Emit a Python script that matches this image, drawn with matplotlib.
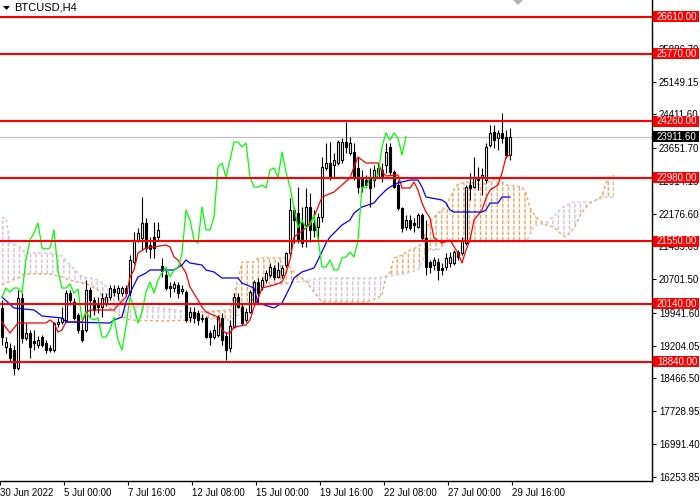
import matplotlib
matplotlib.use("Agg")
import matplotlib.pyplot as plt
import matplotlib.transforms as mtrans
from matplotlib.patches import Rectangle, Polygon
import numpy as np

plt.rcParams['hatch.linewidth'] = 1.0
plt.rcParams['font.family'] = ['Liberation Sans', 'DejaVu Sans']

# ---------------- data ----------------
opens = [20050, 19171, 19149, 19104, 18699, 20275, 19374, 19486, 19307, 19216,
         19396, 19261, 19149, 19104, 19690, 19735, 19780, 20387, 20185, 19892,
         19554, 19554, 20455, 20230, 20162, 20072, 20162, 20297, 20477, 20387,
         20387, 20500, 20410, 21086, 21581, 21626, 21964, 21468, 21648, 21648,
         20996, 20793, 20545, 20500, 20568, 20432, 20410, 19847, 19960, 19937,
         19802, 19825, 19486, 19396, 19441, 19825, 19419, 19149, 19622, 20297,
         20072, 19780, 19960, 20162, 20635, 20522, 20680, 20793, 20951, 20748,
         20793, 21018, 21288, 22257, 22189, 21964, 21919, 22324, 21964, 21874,
         22099, 23203, 23315, 23270, 23315, 23383, 23788, 23540, 23563, 23203,
         23000, 22932, 23000, 22932, 22978, 23158, 23270, 23675, 23113, 22820,
         22302, 21874, 22032, 21964, 21874, 22144, 21626, 21086, 21018, 21086,
         20951, 20973, 21063, 21063, 21311, 21288, 21513, 22820, 22774, 23000,
         22978, 22932, 23720, 24013, 23878, 23991, 23900, 23495]
highs = [20230, 19396, 19261, 19216, 20455, 20387, 19712, 19554, 19554, 19419,
         19441, 19329, 19216, 19735, 19825, 20072, 20455, 20455, 20275, 19937,
         19712, 20680, 20522, 20297, 20297, 20387, 20387, 20568, 20568, 20568,
         20545, 20568, 21243, 21761, 21852, 22549, 22077, 21648, 21987, 21987,
         21176, 20906, 20635, 20658, 20635, 20568, 20455, 20072, 20072, 20005,
         19915, 19870, 19554, 19667, 19892, 19937, 19509, 19780, 20387, 20387,
         20162, 20050, 20455, 20680, 20726, 20748, 20906, 21063, 21018, 21086,
         21018, 21311, 22527, 22324, 22774, 22324, 22752, 22640, 22257, 22189,
         23450, 23765, 23788, 23540, 23833, 23878, 24239, 23900, 23765, 23450,
         23158, 23045, 23203, 23270, 23315, 23315, 23765, 23765, 23158, 22932,
         22324, 22144, 22144, 22077, 22189, 22189, 22032, 21131, 21198, 21176,
         21063, 21288, 21311, 21356, 21356, 21648, 22820, 23090, 23450, 23225,
         23203, 23765, 24171, 24171, 24058, 24442, 24058, 24104]
lows = [19216, 19036, 18834, 18541, 18654, 19261, 19329, 18924, 19104, 19149,
        19171, 19036, 19059, 19059, 19622, 19690, 19735, 20117, 19780, 19486,
        19284, 19509, 19847, 19892, 19937, 19847, 20095, 20230, 20320, 20230,
        20320, 20320, 20320, 21041, 21536, 21356, 21311, 21176, 21176, 21581,
        20748, 20455, 20297, 20410, 20275, 20365, 19735, 19735, 19712, 19667,
        19735, 19374, 19216, 19351, 19396, 19216, 18879, 19059, 19600, 20050,
        19667, 19735, 19937, 20117, 20162, 20455, 20613, 20748, 20680, 20726,
        20726, 20973, 21198, 21513, 21513, 21423, 21423, 21536, 21648, 21581,
        21987, 23158, 22932, 23000, 23270, 23315, 23540, 23495, 22932, 22640,
        22662, 22774, 22324, 22774, 22977, 22887, 23090, 23045, 22752, 22257,
        21761, 21806, 21806, 21761, 21852, 21581, 20793, 20838, 20906, 20680,
        20793, 20906, 20973, 21018, 21131, 21243, 21468, 22482, 22752, 22707,
        22594, 22865, 23675, 23653, 23608, 23765, 23428, 23383]
closes = [19396, 19284, 18924, 18699, 20275, 19374, 19486, 19171, 19261, 19329,
          19216, 19104, 19104, 19712, 19735, 19825, 20387, 20230, 19825, 19554,
          19329, 20455, 20230, 20005, 20072, 20275, 20297, 20500, 20410, 20500,
          20500, 20387, 21131, 21581, 21739, 21964, 21401, 21378, 21401, 21806,
          20883, 20500, 20500, 20590, 20387, 20477, 19780, 19960, 19825, 19780,
          19825, 19396, 19396, 19554, 19847, 19329, 19104, 19645, 20297, 20072,
          19712, 19960, 20410, 20635, 20387, 20680, 20838, 20973, 20748, 20906,
          20951, 21288, 22257, 22032, 21581, 21513, 22324, 21806, 21806, 22099,
          23225, 23315, 23000, 23383, 23788, 23788, 23675, 23765, 23000, 22774,
          22774, 22820, 22752, 23158, 23203, 22978, 23563, 23113, 22774, 22302,
          21852, 22032, 21852, 21919, 22144, 21626, 20973, 20973, 21131, 20906,
          20906, 21176, 21198, 21311, 21198, 21581, 22774, 22752, 23000, 22932,
          23045, 23675, 23991, 23833, 23991, 23878, 23495, 23911.6]

tenkan_idx = [0, 2, 4, 11, 12, 13, 14, 15, 16, 20, 21, 22, 28, 29, 31, 32, 33, 34, 36, 41,
              42, 43, 44, 46, 47, 49, 50, 51, 54, 55, 56, 57, 58, 61, 62, 63, 64, 65, 68, 70,
              71, 72, 73, 76, 78, 79, 80, 83, 85, 87, 88, 89, 90, 91, 94, 95, 96, 99, 100, 102,
              103, 104, 105, 106, 107, 108, 110, 112, 114, 115, 116, 117, 118, 120, 121, 122, 124, 125, 126, 127]
tenkan_val = [19735, 19486, 19712, 19712, 19780, 19712, 19509, 19554, 19735, 19735,
              19937, 20005, 20005, 20117, 20297, 20748, 20906, 21288, 21401, 21468,
              21423, 21198, 21131, 20838, 20522, 20230, 20072, 19960, 19847, 19554,
              19486, 19486, 19622, 19667, 19780, 20072, 20252, 20500, 20568, 20635,
              20838, 21131, 21648, 21852, 22099, 22324, 22549, 22662, 22820, 22978,
              23225, 23450, 23383, 23315, 23315, 23113, 23023, 23045, 22752, 22752,
              22887, 22707, 22414, 22212, 22077, 21626, 21513, 21581, 21288, 21063,
              21356, 21581, 22032, 22257, 22527, 22707, 22820, 23090, 23450, 23495]

kijun_idx = [0, 3, 8, 10, 15, 16, 27, 28, 30, 31, 32, 34, 36, 37, 43, 45, 46, 47, 50, 51,
             53, 55, 59, 60, 63, 64, 68, 70, 72, 73, 75, 78, 79, 81, 82, 83, 85, 87, 88, 90,
             93, 94, 96, 97, 99, 102, 104, 105, 106, 110, 111, 112, 113, 120, 121, 122, 124, 125, 127]
kijun_val = [20297, 20050, 20005, 19870, 19825, 19735, 19712, 19780, 19847, 20185,
             20387, 20748, 20838, 20906, 20906, 21018, 21131, 21063, 21018, 20906,
             20861, 20726, 20726, 20613, 20500, 20162, 20050, 20162, 20522, 20726,
             20861, 20951, 21131, 21513, 21648, 21738, 21919, 22032, 22189, 22324,
             22414, 22527, 22707, 22774, 22865, 22932, 22932, 22774, 22549, 22482,
             22414, 22257, 22212, 22212, 22257, 22414, 22414, 22549, 22549]

cloud_idx = [0, 1, 2, 4, 5, 6, 12, 15, 17, 20, 22, 24, 27, 30, 32, 40, 48, 49, 57, 58,
             59, 60, 63, 64, 71, 72, 73, 76, 78, 80, 91, 94, 95, 96, 97, 98, 100, 102, 104, 105,
             106, 107, 109, 110, 111, 112, 113, 114, 116, 118, 120, 122, 124, 125, 126, 130, 131, 132, 133, 134,
             136, 138, 140, 141, 143, 145, 147, 149, 150, 151, 152, 153]
span_a = [20568, 20613, 20658, 20726, 20793, 20816, 20816, 20748, 20680, 20613,
          20568, 20455, 20050, 19847, 19780, 19757, 19780, 19960, 20005, 20342,
          20680, 21086, 21086, 21176, 21176, 20973, 20861, 20658, 20410, 20185,
          20185, 20275, 20342, 20748, 20861, 21176, 21243, 21356, 21423, 21513,
          21761, 21987, 22189, 22257, 22324, 22527, 22707, 22842, 22887, 22865,
          22820, 22910, 22978, 22887, 22820, 22775, 22640, 22302, 22167, 22054,
          21919, 21874, 21694, 21648, 21852, 22212, 22414, 22504, 22572, 22865,
          23000, 23045]
span_b = [22077, 22077, 21513, 21468, 21356, 21288, 21288, 21221, 21018, 20748,
          20726, 20680, 20455, 20230, 20072, 20050, 19937, 19825, 19780, 19825,
          19892, 20050, 20230, 20545, 20590, 20613, 20635, 20658, 20703, 20726,
          20726, 20726, 20748, 20770, 20770, 20793, 20816, 20861, 20906, 21086,
          21356, 21356, 21356, 21423, 21536, 21536, 21536, 21536, 21536, 21536,
          21536, 21536, 21536, 21536, 21536, 21536, 21536, 21694, 21897, 21919,
          21964, 22122, 22302, 22369, 22437, 22437, 22437, 22482, 22527, 22549,
          22549, 22549]

levels = [26610, 25770, 24260, 22980, 21550, 20140, 18840]
last_price = 23911.60
chikou_shift = 26

y_ticks = [16253.85, 16991.40, 17728.95, 18466.50, 19204.05, 19941.60, 20701.50,
           21439.05, 22176.60, 22914.15, 23651.70, 24411.60, 25149.15, 25886.70]
x_tick_bars = [0, 16, 32, 48, 64, 80, 96, 112, 128]
x_tick_labels = ["30 Jun 2022", "5 Jul 00:00", "7 Jul 16:00", "12 Jul 08:00",
                 "15 Jul 00:00", "19 Jul 16:00", "22 Jul 08:00", "27 Jul 00:00",
                 "29 Jul 16:00"]

# ---------------- figure ----------------
W, H = 700, 500
fig = plt.figure(figsize=(7, 5), dpi=100)
ax = fig.add_axes([0, 19 / H, 652 / W, 481 / H])
ax.set_xlim(-0.5, 162.5)
ax.set_ylim(16154, 26986)
ax.set_facecolor('white')

o = np.array(opens, float)
h = np.array(highs, float)
l = np.array(lows, float)
c = np.array(closes, float)
bars = np.arange(len(c))

# Ichimoku cloud (dashed vertical hatching)
ci = np.array(cloud_idx, float)
A = np.array(span_a, float)
B = np.array(span_b, float)
ax.fill_between(ci, A, B, where=A >= B, interpolate=True, facecolor='none',
                edgecolor='#F4A460', hatch='|||', linewidth=0, zorder=1)
ax.fill_between(ci, A, B, where=A < B, interpolate=True, facecolor='none',
                edgecolor='#D8BFD8', hatch='|||', linewidth=0, zorder=1)
plt.rcParams['hatch.linewidth'] = 1.2
ax.fill_between(ci, A, B, facecolor='none', edgecolor='white', hatch='---',
                linewidth=0, zorder=1.2)
plt.rcParams['hatch.linewidth'] = 1.0
ax.plot(ci, A, color='#F4A460', lw=1.0, ls=(0, (2, 2)), zorder=1.5)
ax.plot(ci, B, color='#D8BFD8', lw=1.0, ls=(0, (2, 2)), zorder=1.5)

# current price line
ax.axhline(last_price, color='#C0C0C0', lw=0.9, zorder=2)

# candles
up = c >= o
ax.vlines(bars, l, h, color='black', lw=0.8, zorder=3)
ax.bar(bars[up], (c - o)[up], bottom=o[up], width=0.6, color='white',
       edgecolor='black', linewidth=0.8, zorder=4)
ax.bar(bars[~up], (c - o)[~up], bottom=o[~up], width=0.6, color='black',
       edgecolor='black', linewidth=0.8, zorder=4)

# Ichimoku lines
ax.plot(tenkan_idx, tenkan_val, color='red', lw=0.9, zorder=5)
ax.plot(kijun_idx, kijun_val, color='#0000FF', lw=0.9, zorder=5)
ax.plot(bars[:-chikou_shift], c[chikou_shift:], color='#00FF00', lw=0.9, zorder=5)

# horizontal levels
trans = mtrans.blended_transform_factory(ax.transAxes, ax.transData)
px_price = (26986 - 16154) / 481.0
for lv in levels:
    ax.axhline(lv, color='red', lw=1.5, zorder=6)
for lv, fc in [(lv, 'red') for lv in levels] + [(last_price, 'black')]:
    ax.add_patch(Rectangle((1 + 1 / 652, lv - 5.5 * px_price), 46 / 652, 11 * px_price,
                           transform=trans, facecolor=fc, edgecolor='none',
                           clip_on=False, zorder=10))
    ax.text(1 + 5 / 652, lv, f"{lv:.2f}", transform=trans, color='white',
            fontsize=7, va='center', ha='left', clip_on=False, zorder=11)

# axes styling
ax.yaxis.tick_right()
ax.set_yticks(y_ticks)
ax.set_yticklabels([f"{v:.2f}" for v in y_ticks])
ax.tick_params(axis='y', direction='out', length=3, width=0.8, labelsize=7, pad=2,
               colors='black')
ax.set_xticks([b - 0.5 for b in x_tick_bars])
ax.set_xticklabels(x_tick_labels)
for t in ax.get_xticklabels():
    t.set_horizontalalignment('left')
ax.tick_params(axis='x', direction='out', length=3, width=0.8, labelsize=7, pad=2,
               colors='black')
for s in ['left', 'top']:
    ax.spines[s].set_visible(False)
for s in ['right', 'bottom']:
    ax.spines[s].set_color('black')
    ax.spines[s].set_linewidth(1.0)

# title and markers
fig.text(14 / W, 1 - 8 / H, "BTCUSD,H4", fontsize=8, va='center', ha='left')
fig.patches.append(Polygon([[3 / W, 1 - 6 / H], [10 / W, 1 - 6 / H], [6.5 / W, 1 - 10 / H]],
                           closed=True, transform=fig.transFigure, facecolor='black',
                           edgecolor='none'))
fig.patches.append(Polygon([[513 / W, 1.0], [523 / W, 1.0], [518 / W, 1 - 5 / H]],
                           closed=True, transform=fig.transFigure, facecolor='#B0B0B0',
                           edgecolor='none'))

fig.savefig("out.png", dpi=100, facecolor='white')
